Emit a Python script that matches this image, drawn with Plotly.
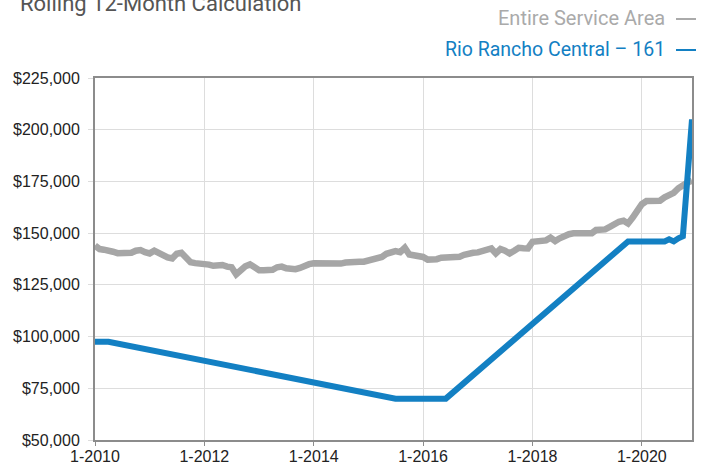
import plotly.graph_objects as go
import pandas as pd

# ---------------- data ----------------
months = pd.date_range("2010-01-01", "2020-12-01", freq="MS")

entire_service_area = [
    144000, 142300, 142000, 141800, 141000, 140300, 140200, 140200, 140500, 141500,
    141800, 140800, 140200, 141500, 140300, 139700, 138300, 137800, 140000, 140500,
    138000, 135900, 135500, 135400, 135400, 134800, 134200, 134800, 134600, 133800,
    133500, 130100, 132500, 134000, 134900, 133500, 132100, 132100, 132100, 132300,
    133500, 133800, 133000, 132800, 132600, 133200, 134500, 135000, 135400, 135400,
    135400, 135400, 135200, 134700, 135300, 135800, 136200, 136200, 136200, 136200,
    136700, 137500, 137500, 138500, 140000, 140500, 141300, 140800, 142900, 139700,
    139300, 139100, 138500, 137200, 137000, 137400, 138100, 138100, 138100, 138100,
    138600, 139500, 140200, 140500, 140700, 141500, 142000, 142600, 140200, 142300,
    141500, 140200, 141500, 142900, 142700, 142600, 145800, 145800, 145800, 146500,
    147800, 146200, 147500, 148700, 149500, 149900, 150000, 150000, 150000, 150000,
    151500, 151600, 151800, 153000, 154700, 155500, 156000, 154700, 157500, 160500,
    164000, 165500, 165700, 165700, 165700, 167300, 168500, 169500, 171700, 173500,
    174500, 175300,
]

rio_dates = ["2010-01-01", "2010-04-01", "2015-07-01", "2016-06-01", "2019-10-01",
             "2020-06-01", "2020-07-01", "2020-08-01", "2020-09-01", "2020-10-01",
             "2020-12-01"]
rio_values = [97500, 97500, 70000, 70000, 146000,
              146000, 147000, 146000, 147500, 148500,
              205000]

tick_dates = ["2010-01-01", "2012-01-01", "2014-01-01", "2016-01-01",
              "2018-01-01", "2020-01-01"]
tick_labels = ["1-2010", "1-2012", "1-2014", "1-2016", "1-2018", "1-2020"]

title_text = "Rolling 12-Month Calculation"
series_names = ["Entire Service Area", "Rio Rancho Central – 161"]

# ---------------- styles ----------------
GRAY = "#a6a6a6"
BLUE = "#1380c3"
NARROW = "Liberation Sans Narrow, Arial Narrow, Roboto, sans-serif"
BASE = "Liberation Sans, Arial, Helvetica, sans-serif"
ML, MR, MT, MB = 95, 11, 78, 26
W, H = 703, 466
PW = float(W - ML - MR)
PH = float(H - MT - MB)


def px_x(x):
    return (x - ML) / PW


def px_y(y):
    return 1 - (y - MT) / PH


fig = go.Figure()
fig.add_trace(go.Scatter(x=months, y=entire_service_area, mode="lines",
                         name=series_names[0],
                         line=dict(color=GRAY, width=6.5),
                         hoverinfo="x+y"))
fig.add_trace(go.Scatter(x=pd.to_datetime(rio_dates), y=rio_values, mode="lines",
                         name=series_names[1],
                         line=dict(color=BLUE, width=6),
                         hoverinfo="x+y"))

fig.update_layout(
    width=W, height=H,
    margin=dict(l=ML, r=MR, t=MT, b=MB),
    paper_bgcolor="white", plot_bgcolor="white",
    showlegend=False,
    font=dict(family=BASE, size=16, color="#222222"),
)

fig.update_xaxes(
    range=["2010-01-01", "2020-12-01"],
    tickvals=pd.to_datetime(tick_dates), ticktext=tick_labels,
    showgrid=True, gridcolor="#dddddd", gridwidth=1,
    showline=True, linecolor="#8c8c8c", linewidth=2, mirror=True,
    ticks="outside", ticklen=4, tickcolor="#8c8c8c", tickwidth=1,
    ticklabelstandoff=-3,
    tickfont=dict(family=BASE, size=16, color="#222222"),
    zeroline=False, automargin=False,
)
fig.update_yaxes(
    range=[50000, 225000], dtick=25000, tick0=50000,
    tickprefix="$", tickformat=",d",
    showgrid=True, gridcolor="#dddddd", gridwidth=1,
    showline=True, linecolor="#8c8c8c", linewidth=2, mirror=True,
    ticks="outside", ticklen=5, tickcolor="#dddddd", tickwidth=1,
    ticklabelstandoff=5,
    tickfont=dict(family=BASE, size=16, color="#222222"),
    zeroline=False, automargin=False,
)

# title (partially cut at top, like the reference)
fig.add_annotation(text=title_text, xref="paper", yref="paper",
                   x=px_x(18), y=px_y(4), xanchor="left", yanchor="middle",
                   showarrow=False,
                   font=dict(family=NARROW, size=22, color="#555555"))

# legend texts + dashes
fig.add_annotation(text=series_names[0], xref="paper", yref="paper",
                   x=px_x(667), y=px_y(18), xanchor="right", yanchor="middle",
                   showarrow=False, font=dict(family=NARROW, size=20, color="#aaaaaa"))
fig.add_annotation(text=series_names[1], xref="paper", yref="paper",
                   x=px_x(667), y=px_y(49), xanchor="right", yanchor="middle",
                   showarrow=False, font=dict(family=NARROW, size=19.5, color=BLUE))
fig.add_shape(type="line", xref="paper", yref="paper",
              x0=px_x(676), x1=px_x(696), y0=px_y(19), y1=px_y(19),
              line=dict(color="#aaaaaa", width=2))
fig.add_shape(type="line", xref="paper", yref="paper",
              x0=px_x(676), x1=px_x(696), y0=px_y(50), y1=px_y(50),
              line=dict(color=BLUE, width=2))

fig.write_html(
    "out.html",
    config={"displayModeBar": False},
    post_script="document.body.style.margin='0';document.body.style.overflow='hidden';",
)
